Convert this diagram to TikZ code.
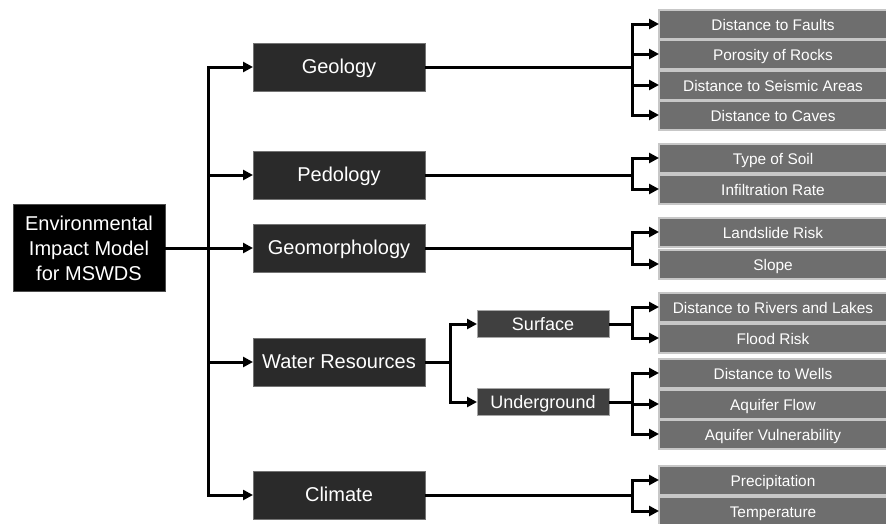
\documentclass[tikz,border=0pt]{standalone}
\usepackage{fontspec}
\setmainfont{Liberation Sans}
\usetikzlibrary{arrows.meta}
\definecolor{boxdark}{HTML}{2A2A2A}
\definecolor{boxmid}{HTML}{404040}
\definecolor{boxleaf}{HTML}{6E6E6E}

\begin{document}
\begin{tikzpicture}[x=1pt,y=-1pt,inner sep=0pt,outer sep=0pt,line width=3pt,
>={Triangle[length=10pt,width=10pt]},
rootblock/.style={fill=black,draw=black!70,line width=1pt,minimum width=152pt,minimum height=87pt,align=center,text=white,font=\fontsize{20}{25}\selectfont},
mainblock/.style={fill=boxdark,draw=black!55,line width=1pt,minimum width=172pt,minimum height=48pt,text=white,text height=15pt,text depth=1.7pt,font=\fontsize{20}{24}\selectfont},
subblock/.style={fill=boxmid,draw=black!35,line width=1pt,minimum width=132pt,minimum height=27pt,text=white,text height=14pt,text depth=0.8pt,font=\fontsize{18}{22}\selectfont},
leafblock/.style={fill=boxleaf,draw=black!22,line width=2pt,minimum width=228pt,minimum height=29pt,text=white,text height=13pt,text depth=0.4pt,font=\fontsize{15.4}{18}\selectfont}]

\useasboundingbox (0,0) rectangle (886,523);

\draw (89,248) node[rootblock] (model) {Environmental\\Impact Model\\for MSWDS};

\draw (339,67) node[mainblock] (geol) {Geology};
\draw (339,175) node[mainblock] (pedo) {Pedology};
\draw (339,248) node[mainblock] (geom) {Geomorphology};
\draw (339,362) node[mainblock] (water) {Water Resources};
\draw (339,495) node[mainblock] (clim) {Climate};

\draw (543,324) node[subblock] (surf) {Surface};
\draw (543,402) node[subblock] (under) {Underground};

\draw (773,24) node[leafblock] (faults) {Distance to Faults};
\draw (773,54) node[leafblock] (rocks) {Porosity of Rocks};
\draw (773,85) node[leafblock] (seismic) {Distance to Seismic Areas};
\draw (773,115) node[leafblock] (caves) {Distance to Caves};
\draw (773,158) node[leafblock] (soil) {Type of Soil};
\draw (773,189) node[leafblock] (infil) {Infiltration Rate};
\draw (773,232) node[leafblock] (landslide) {Landslide Risk};
\draw (773,264) node[leafblock] (slope) {Slope};
\draw (773,307) node[leafblock] (rivers) {Distance to Rivers and Lakes};
\draw (773,338) node[leafblock] (flood) {Flood Risk};
\draw (773,373) node[leafblock] (wells) {Distance to Wells};
\draw (773,404) node[leafblock] (flow) {Aquifer Flow};
\draw (773,434) node[leafblock] (vuln) {Aquifer Vulnerability};
\draw (773,480) node[leafblock] (precip) {Precipitation};
\draw (773,511) node[leafblock] (temp) {Temperature};

\foreach \c in {geol,pedo,geom,water,clim}
  \draw[->] (model.east) -| ([xshift=-45pt]\c.west) -- (\c.west);

\foreach \p/\c in {geol/faults,geol/rocks,geol/seismic,geol/caves,pedo/soil,pedo/infil,
  geom/landslide,geom/slope,water/surf,water/under,surf/rivers,surf/flood,
  under/wells,under/flow,under/vuln,clim/precip,clim/temp}
  \draw[->] (\p.east) -| ([xshift=-27pt]\c.west) -- (\c.west);

\end{tikzpicture}
\end{document}
